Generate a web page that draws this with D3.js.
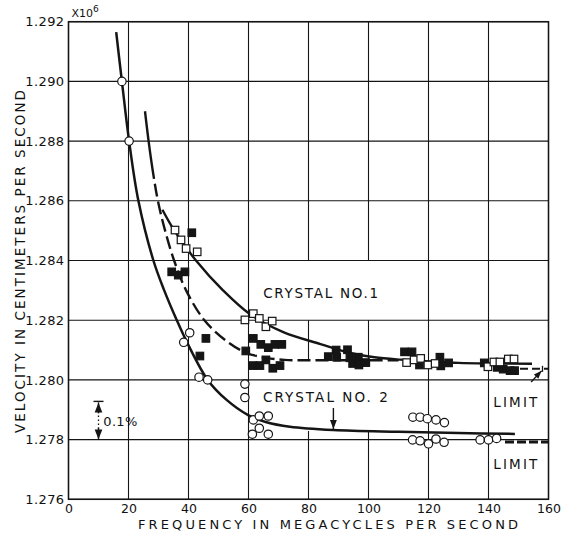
<!DOCTYPE html>
<html>
<head>
<meta charset="utf-8">
<script src="https://cdn.jsdelivr.net/npm/d3@7"></script>
<style>
  body { margin: 0; background: #fff; }
  svg text { font-family: "DejaVu Sans", sans-serif; fill: #111; }
</style>
</head>
<body>
<div id="chart"></div>
<script>
// ---- data (frequency in Mc/s, velocity x10^6 cm/s) ----
const freqTicks = [0, 20, 40, 60, 80, 100, 120, 140, 160];
const velTicks = [1.276, 1.278, 1.280, 1.282, 1.284, 1.286, 1.288, 1.290, 1.292];

// crystal no.1 - open squares
const crystal1Open = [
  [35.5, 1.28502], [37.5, 1.28469], [39.2, 1.28440], [42.9, 1.28429],
  [58.8, 1.28201], [61.6, 1.28222], [63.6, 1.28206], [65.8, 1.28178], [67.9, 1.28197],
  [112.7, 1.28058], [115.2, 1.28067], [117.4, 1.28072], [119.8, 1.28050], [122.2, 1.28055],
  [139.8, 1.28044], [141.8, 1.28060], [143.8, 1.28060], [146.6, 1.28070], [148.5, 1.28070]
];
// crystal no.1 - filled squares
const crystal1Filled = [
  [41.1, 1.28493], [34.4, 1.28362], [36.6, 1.28351], [38.8, 1.28362],
  [45.8, 1.28139], [43.8, 1.28080], [59.1, 1.28097],
  [61.6, 1.28139], [64.1, 1.28119], [66.6, 1.28108], [68.8, 1.28119], [71.1, 1.28119],
  [61.4, 1.28048], [63.8, 1.28048], [65.8, 1.28067], [68.1, 1.28039], [70.5, 1.28048],
  [86.6, 1.28078], [89.2, 1.28100], [89.4, 1.28076], [93.0, 1.28101], [93.8, 1.28074],
  [94.7, 1.28055], [96.8, 1.28050], [96.6, 1.28076], [99.1, 1.28058],
  [112.0, 1.28094], [114.5, 1.28094], [117.0, 1.28050], [123.8, 1.28076], [124.1, 1.28047], [126.7, 1.28057],
  [138.6, 1.28057], [142.9, 1.28042], [144.9, 1.28036], [147.2, 1.28031], [148.7, 1.28031]
];
// crystal no.2 - open circles
const crystal2Points = [
  [17.8, 1.2900], [20.2, 1.2880], [38.4, 1.28126], [40.4, 1.28158], [43.5, 1.28009], [46.4, 1.28000],
  [58.8, 1.27986], [58.8, 1.27941], [61.6, 1.27866], [63.6, 1.27879], [66.6, 1.27879],
  [63.6, 1.27838], [61.3, 1.27818], [66.6, 1.27818],
  [114.8, 1.27875], [117.2, 1.27875], [119.6, 1.27870], [122.5, 1.27866], [125.3, 1.27857],
  [114.7, 1.27799], [117.2, 1.27796], [120.0, 1.27786], [122.5, 1.27802], [125.2, 1.27791],
  [137.2, 1.27799], [140.0, 1.27799], [142.7, 1.27804]
];

// drawn curves
const crystal1Solid = [
  [31.3, 1.28570], [35.3, 1.28500], [42.5, 1.28400], [51.5, 1.28300], [60.5, 1.28220],
  [71.6, 1.28160], [84, 1.28120], [94, 1.28090], [102, 1.28076], [110.5, 1.28068],
  [120, 1.28062], [130, 1.28057], [140, 1.28055], [154.5, 1.28054]
];
const crystal1Dashed = [
  [25.5, 1.28900], [26.7, 1.28800], [28.1, 1.28700], [29.8, 1.28600], [32.2, 1.28500],
  [35.2, 1.28400], [39.2, 1.28300], [45.3, 1.28200], [52.7, 1.28130], [59.4, 1.28090],
  [66, 1.28074], [72, 1.28067], [80, 1.28066], [95, 1.28066], [110, 1.28066]
];
const crystal2Curve = [
  [15.9, 1.29165], [17.8, 1.2900], [20.2, 1.2880], [23.3, 1.2860], [28.3, 1.2840],
  [31.9, 1.2830], [36.1, 1.2820], [39.8, 1.2812], [46.4, 1.2800], [52.7, 1.27933],
  [59.9, 1.27882], [66, 1.27858], [73.8, 1.27843], [88.3, 1.27832], [110, 1.27826],
  [130, 1.27822], [148.8, 1.27819]
];
const limit1 = [[150.5, 1.28037], [160, 1.28037]];
const limit2 = [[145.5, 1.27792], [160, 1.27792]];

// ---- layout ----
const width = 564, height = 535;
const margin = {top: 21.7, right: 15.5, bottom: 35.7, left: 68.5};

const x = d3.scaleLinear().domain([0, 160]).range([margin.left, width - margin.right]);
const y = d3.scaleLinear().domain([1.276, 1.292]).range([height - margin.bottom, margin.top]);

const svg = d3.select("#chart").append("svg")
    .attr("width", width)
    .attr("height", height);

const ink = "#151515";

// vertical grid
svg.append("g").selectAll("line")
    .data(freqTicks)
    .join("line")
    .attr("x1", d => x(d)).attr("x2", d => x(d))
    .attr("y1", y(1.276)).attr("y2", y(1.292))
    .attr("stroke", ink).attr("stroke-width", 1.1);

// blank areas behind the crystal labels (vertical rules are broken there)
const blanks = [[62, 117, 1.282, 1.284], [62, 117, 1.27829, 1.28063]];
svg.append("g").selectAll("rect")
    .data(blanks)
    .join("rect")
    .attr("x", d => x(d[0])).attr("width", d => x(d[1]) - x(d[0]))
    .attr("y", d => y(d[3])).attr("height", d => y(d[2]) - y(d[3]))
    .attr("fill", "#fff");

// horizontal grid
svg.append("g").selectAll("line")
    .data(velTicks)
    .join("line")
    .attr("x1", x(0)).attr("x2", x(160))
    .attr("y1", d => y(d)).attr("y2", d => y(d))
    .attr("stroke", ink).attr("stroke-width", 1.1);

// frame
svg.append("rect")
    .attr("x", x(0)).attr("y", y(1.292))
    .attr("width", x(160) - x(0)).attr("height", y(1.276) - y(1.292))
    .attr("fill", "none").attr("stroke", ink).attr("stroke-width", 1.5);

// axes (labels only)
const xAxis = d3.axisBottom(x).tickValues(freqTicks).tickSize(0).tickPadding(5).tickFormat(d3.format("d"));
const yAxis = d3.axisLeft(y).tickValues(velTicks).tickSize(0).tickPadding(4).tickFormat(d3.format(".3f"));

const gx = svg.append("g").attr("transform", `translate(0,${y(1.276)})`).call(xAxis);
const gy = svg.append("g").attr("transform", `translate(${x(0)},0)`).call(yAxis);
[gx, gy].forEach(g => {
  g.select(".domain").remove();
  g.selectAll("text")
    .attr("font-family", "DejaVu Sans, sans-serif")
    .attr("font-size", 13)
    .attr("fill", ink);
});
gx.selectAll("text").attr("font-size", 12.5);
gy.selectAll("text").attr("letter-spacing", 0.4);

// x10^6
const mult = svg.append("text").attr("x", 71.5).attr("y", 16.5).attr("font-size", 11);
mult.append("tspan").text("X10");
mult.append("tspan").attr("font-size", 9).attr("dy", -5).text("6");

// axis titles
svg.append("text")
    .attr("x", 138).attr("y", 529)
    .attr("font-size", 13)
    .attr("textLength", 380).attr("lengthAdjust", "spacing")
    .text("FREQUENCY IN MEGACYCLES PER SECOND");

svg.append("text")
    .attr("transform", "translate(25,433) rotate(-90)")
    .attr("font-size", 13.5)
    .attr("textLength", 343).attr("lengthAdjust", "spacing")
    .text("VELOCITY IN CENTIMETERS PER SECOND");

// ---- curves ----
const line = d3.line()
    .x(d => x(d[0]))
    .y(d => y(d[1]))
    .curve(d3.curveCatmullRom.alpha(0.5));

const curves = svg.append("g").attr("fill", "none").attr("stroke", ink).attr("stroke-linecap", "butt");

curves.append("path").attr("d", line(crystal2Curve)).attr("stroke-width", 2.5);
curves.append("path").attr("d", line(crystal1Solid)).attr("stroke-width", 2.4);

// solid start, dashed afterwards
const dashedPath = curves.append("path").attr("d", line(crystal1Dashed)).attr("stroke-width", 2.4);
const probe = curves.append("path").attr("d", line(crystal1Dashed.slice(0, 3)));
const solidLen = probe.node().getTotalLength() + 8;
probe.remove();
const totalLen = dashedPath.node().getTotalLength();
const dashes = [solidLen];
for (let s = solidLen; s < totalLen; s += 18) dashes.push(5, 13);
dashedPath.attr("stroke-dasharray", dashes.join(","));

curves.append("path").attr("d", line(limit1)).attr("stroke-width", 2).attr("stroke-dasharray", "8,4");
curves.append("line")
    .attr("x1", x(160) - 6).attr("x2", x(160) - 6)
    .attr("y1", y(limit1[0][1]) - 3).attr("y2", y(limit1[0][1]) + 3)
    .attr("stroke-width", 1.3);
curves.append("path").attr("d", line(limit2)).attr("stroke-width", 3.2).attr("stroke-dasharray", "9,3");

// ---- points ----
const pts = svg.append("g").attr("stroke", ink).attr("stroke-width", 1.2);
const sq = 7.5;
pts.selectAll("rect.filled")
    .data(crystal1Filled)
    .join("rect")
    .attr("class", "filled")
    .attr("x", d => x(d[0]) - sq / 2).attr("y", d => y(d[1]) - sq / 2)
    .attr("width", sq).attr("height", sq)
    .attr("fill", ink);
pts.selectAll("rect.open")
    .data(crystal1Open)
    .join("rect")
    .attr("class", "open")
    .attr("x", d => x(d[0]) - sq / 2).attr("y", d => y(d[1]) - sq / 2)
    .attr("width", sq).attr("height", sq)
    .attr("fill", "#fff");
pts.selectAll("circle")
    .data(crystal2Points)
    .join("circle")
    .attr("cx", d => x(d[0])).attr("cy", d => y(d[1]))
    .attr("r", 4.2)
    .attr("fill", "#fff");

// ---- annotations ----
function arrow(x1, y1, x2, y2, size) {
  const a = Math.atan2(y2 - y1, x2 - x1);
  const g = svg.append("g");
  g.append("line")
      .attr("x1", x1).attr("y1", y1).attr("x2", x2).attr("y2", y2)
      .attr("stroke", ink).attr("stroke-width", 1.4);
  const bx = x2 - size * Math.cos(a), by = y2 - size * Math.sin(a);
  const w = size * 0.38;
  g.append("path")
      .attr("d", `M${x2},${y2}L${bx + w * Math.sin(a)},${by - w * Math.cos(a)}L${bx - w * Math.sin(a)},${by + w * Math.cos(a)}Z`)
      .attr("fill", ink);
}

const label = (txt, fx, vy, len, size) => svg.append("text")
    .attr("x", x(fx)).attr("y", y(vy))
    .attr("font-size", size)
    .attr("textLength", len).attr("lengthAdjust", "spacing")
    .text(txt);

label("CRYSTAL NO.1", 64.9, 1.28273, 115, 13.5);
label("CRYSTAL NO. 2", 64.8, 1.27926, 125, 13.5);
label("LIMIT", 141.6, 1.27908, 44, 13.5);
label("LIMIT", 141.6, 1.27701, 44, 13.5);
label("0.1%", 11.6, 1.27846, 34, 13);

// arrow to crystal no.2 curve
arrow(x(88.3), y(1.27832) - 22, x(88.3), y(1.27832) - 1, 9);
// arrow to upper limit
arrow(x(154.2), y(1.27993), x(157.7), y(1.28037) + 2, 8);

// 0.1% span marker
const top01 = y(1.278 + 0.00128), bot01 = y(1.278);
svg.append("line")
    .attr("x1", x(10) - 5).attr("x2", x(10) + 5)
    .attr("y1", top01).attr("y2", top01)
    .attr("stroke", ink).attr("stroke-width", 1.4);
svg.append("line")
    .attr("x1", x(10)).attr("x2", x(10))
    .attr("y1", top01 + 10).attr("y2", bot01 - 10)
    .attr("stroke", ink).attr("stroke-width", 1.3).attr("stroke-dasharray", "1.5,2.5");
arrow(x(10), top01 + 12, x(10), top01 + 1, 10);
arrow(x(10), bot01 - 12, x(10), bot01, 10);
</script>
</body>
</html>
